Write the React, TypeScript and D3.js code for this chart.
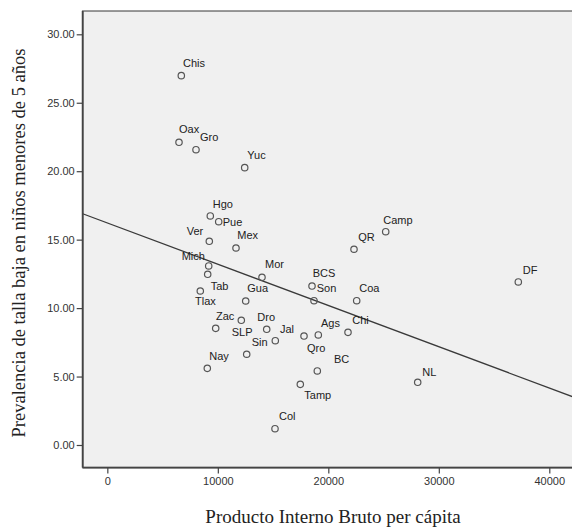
import React, { useEffect, useRef } from "react";
import * as d3 from "d3";

// ---- Data ----
const states = [
  "Chis", "Oax", "Gro", "Yuc", "Hgo", "Pue", "Ver", "Mex",
  "Mich", "Tab", "Tlax", "Mor", "Gua", "BCS", "Son", "Coa",
  "QR", "Camp", "DF", "NL", "Zac", "SLP", "Dro", "Jal",
  "Sin", "Qro", "Ags", "Chi", "Nay", "BC", "Tamp", "Col",
];
const gdpPerCapita = [
  6695, 6487, 8025, 12433, 9319, 10080, 9229, 11645,
  9175, 9084, 8414, 13998, 12523, 18524, 18705, 22569,
  22325, 25194, 37195, 28090, 9808, 12125, 14424, 15202,
  12614, 17800, 19094, 21782, 9048, 19004, 17465, 15175,
];
const stunting = [
  26.98, 22.11, 21.57, 20.26, 16.73, 16.31, 14.88, 14.39,
  13.08, 12.47, 11.25, 12.25, 10.52, 11.61, 10.54, 10.54,
  14.3, 15.58, 11.91, 4.58, 8.52, 9.11, 8.45, 7.62,
  6.63, 7.96, 8.04, 8.23, 5.6, 5.41, 4.43, 1.19,
];
const xTicks = [0, 10000, 20000, 30000, 40000];
const yTicks = [0, 5, 10, 15, 20, 25, 30];
const fitIntercept = 16.22;
const fitSlope = -0.0003014;

const xTitle = "Producto Interno Bruto per cápita";
const yTitle = "Prevalencia de talla baja en niños menores de 5 años";

// ---- Label placement (styling offsets in px relative to the point) ----
const labelOffsets: Record<string, [number, number]> = {
  Chis: [1.7, -9], Oax: [0, -9], Gro: [4, -8.7], Yuc: [2.6, -8.4],
  Hgo: [2.4, -8.3], Pue: [4, 4], Ver: [-22.6, -6.3], Mex: [1.3, -9],
  Mich: [-27, -6], Tab: [3, 15.7], Tlax: [-5.3, 14], Mor: [3, -9],
  Gua: [1.6, -9.3], BCS: [0.7, -8.7], Son: [2.7, -8.4], Coa: [2.6, -8.4],
  QR: [4.3, -8.3], Camp: [-2.4, -7.7], DF: [4.4, -8], NL: [4.6, -6.6],
  Zac: [0.3, -8.3], SLP: [-9.6, 15.4], Dro: [-9.4, -8.3], Jal: [4.7, -8],
  Sin: [5, -8.3], Qro: [3, 15.7], Ags: [2.7, -8.3], Chi: [4.3, -8.3],
  Nay: [2, -8.3], BC: [16.7, -7.7], Tamp: [4, 14.7], Col: [4, -8.7],
};

const W = 572;
const H = 528;
const xDomainMin = -2230;
const yDomainMin = -1.65;
const yDomainMax = 31.7;

export default function App() {
  const ref = useRef<SVGSVGElement | null>(null);

  useEffect(() => {
    const svg = d3.select(ref.current);
    svg.selectAll("*").remove();

    const x = d3.scaleLinear().domain([0, 40000]).range([107.33, 549.3]);
    const y = d3.scaleLinear().domain([0, 30]).range([445, 34.3]);

    const left = x(xDomainMin);
    const top = y(yDomainMax);
    const bottom = y(yDomainMin);
    const right = W + 20;

    // plot background
    svg.append("rect")
      .attr("x", left).attr("y", top)
      .attr("width", right - left).attr("height", bottom - top)
      .attr("fill", "#f0f0f0")
      .attr("stroke", "#777").attr("stroke-width", 1.5);

    // regression line
    const xEnd = x.invert(right);
    const fit = d3.line<number>()
      .x((d) => x(d))
      .y((d) => y(fitIntercept + fitSlope * d));
    svg.append("path")
      .attr("d", fit([xDomainMin, xEnd]))
      .attr("fill", "none")
      .attr("stroke", "#3a3a3a")
      .attr("stroke-width", 1.3);

    // axes
    const yAxis = d3.axisLeft(y).tickValues(yTicks).tickSize(6).tickPadding(2)
      .tickFormat((d) => d3.format(".2f")(d as number));
    const gy = svg.append("g").attr("transform", `translate(${left},0)`).call(yAxis);
    gy.select(".domain").remove();
    gy.selectAll("line").attr("stroke", "#444").attr("stroke-width", 1.2);
    gy.selectAll("text")
      .attr("font-family", "'Liberation Sans', Arial, sans-serif")
      .attr("font-size", 11).attr("fill", "#333");

    const xAxis = d3.axisBottom(x).tickValues(xTicks).tickSize(6).tickPadding(4)
      .tickFormat((d) => d3.format("d")(d as number));
    const gx = svg.append("g").attr("transform", `translate(0,${bottom})`).call(xAxis);
    gx.select(".domain").remove();
    gx.selectAll("line").attr("stroke", "#444").attr("stroke-width", 1.2);
    gx.selectAll("text")
      .attr("font-family", "'Liberation Sans', Arial, sans-serif")
      .attr("font-size", 11).attr("fill", "#333");

    // axis lines (left and bottom darker)
    svg.append("line").attr("x1", left).attr("x2", left).attr("y1", top).attr("y2", bottom)
      .attr("stroke", "#444").attr("stroke-width", 1.8);
    svg.append("line").attr("x1", left).attr("x2", right).attr("y1", bottom).attr("y2", bottom)
      .attr("stroke", "#444").attr("stroke-width", 1.8);

    // points
    const data = states.map((s, i) => ({ s, gx: gdpPerCapita[i], st: stunting[i] }));
    svg.append("g").selectAll("circle").data(data).join("circle")
      .attr("cx", (d) => x(d.gx)).attr("cy", (d) => y(d.st))
      .attr("r", 3.2)
      .attr("fill", "none").attr("stroke", "#555").attr("stroke-width", 1.2);

    svg.append("g").selectAll("text").data(data).join("text")
      .attr("x", (d) => x(d.gx) + labelOffsets[d.s][0])
      .attr("y", (d) => y(d.st) + labelOffsets[d.s][1])
      .attr("font-family", "'Liberation Sans', Arial, sans-serif")
      .attr("font-size", 11).attr("fill", "#222")
      .text((d) => d.s);

    // titles
    svg.append("text")
      .attr("x", 333).attr("y", 523)
      .attr("text-anchor", "middle")
      .attr("font-family", "'Liberation Serif', 'Times New Roman', serif")
      .attr("font-size", 19).attr("fill", "#222")
      .text(xTitle);

    svg.append("text")
      .attr("transform", `translate(25,243) rotate(-90)`)
      .attr("text-anchor", "middle")
      .attr("font-family", "'Liberation Serif', 'Times New Roman', serif")
      .attr("font-size", 18.5).attr("fill", "#222")
      .text(yTitle);
  }, []);

  return (
    <svg
      ref={ref}
      width={W}
      height={H}
      style={{ position: "absolute", left: 0, top: 0, background: "#fff" }}
    />
  );
}
